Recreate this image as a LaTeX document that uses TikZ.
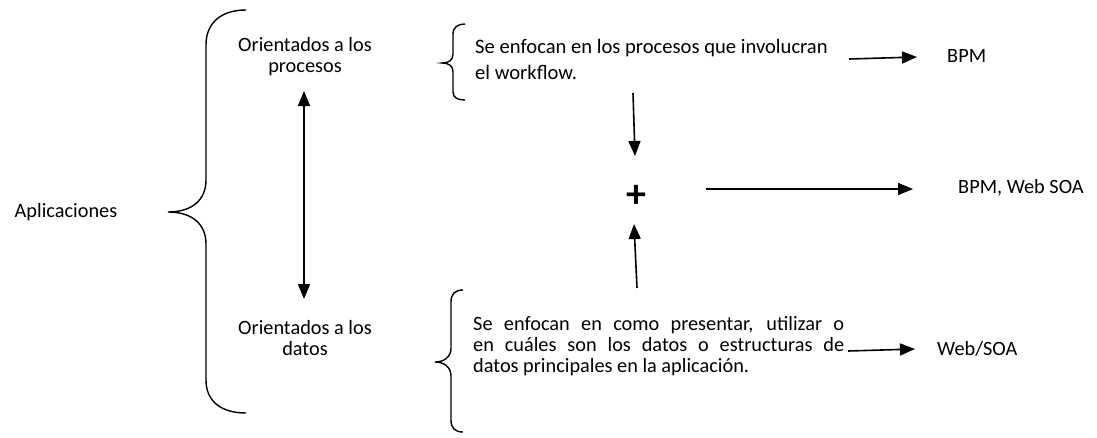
\documentclass[tikz,border=0pt]{standalone}
\usepackage{fontspec}
\setmainfont{Carlito}
\usetikzlibrary{arrows.meta}
\begin{document}
\begin{tikzpicture}[x=1pt,y=-1pt,
  txt/.style={inner sep=0pt,font=\fontsize{20.3}{21}\selectfont},
  arr/.style={line width=1.6pt,-{Triangle[length=15pt,width=12pt]}},
  darr/.style={line width=1.6pt,{Triangle[length=15pt,width=12pt]}-{Triangle[length=15pt,width=12pt]}},
  brace/.style={line width=1.4pt}]
\useasboundingbox (0,0) rectangle (1097,437);
% texts
\node[txt] (apl) at (66,212) {Aplicaciones};
\node[txt,align=center,font=\fontsize{20.3}{21}\selectfont] (proc) at (305,57) {Orientados a los\\procesos};
\node[txt,align=center,font=\fontsize{20.3}{21}\selectfont] (dat) at (305,338) {Orientados a los\\datos};
\node[txt,anchor=west,align=left,font=\fontsize{20.6}{26}\selectfont] (t1) at (475,59) {Se enfocan en los procesos que involucran\\el workflow.};
\node[txt,anchor=west,text width=371pt,align=justify,font=\fontsize{20.3}{21}\selectfont] (t2) at (473,346) {Se enfocan en como presentar, utilizar o\linebreak en cuáles son los datos o estructuras de\linebreak datos principales en la aplicación.};
\node[txt,anchor=west] (bpm) at (947,56) {BPM};
\node[txt,anchor=west] (bws) at (958,188) {BPM, Web SOA};
\node[txt,anchor=west] (wsoa) at (937,349) {Web/SOA};
\node[inner sep=0pt,font=\fontsize{40}{40}\bfseries] (plus) at (636.5,196) {+};
% big brace
\draw[brace] (246,10) .. controls (222,10) and (206,22) .. (206,45)
  -- (206,180) .. controls (206,200) and (192,212) .. (168,212)
  .. controls (192,212) and (206,224) .. (206,244)
  -- (206,380) .. controls (206,402) and (222,413) .. (246,413);
% small brace 1
\draw[brace] (465,24) .. controls (458,24) and (453,27) .. (453,34)
  -- (453,54) .. controls (453,60) and (449,63) .. (442,63)
  .. controls (449,63) and (453,66) .. (453,72)
  -- (453,92) .. controls (453,98) and (458,100) .. (465,100);
% small brace 2
\draw[brace] (463,290) .. controls (455,290) and (451,294) .. (451,302)
  -- (451,348) .. controls (451,357) and (444,362) .. (435,362)
  .. controls (444,362) and (451,367) .. (451,376)
  -- (451,420) .. controls (451,428) and (455,432) .. (463,432);
% arrows
\coordinate (a1s) at (849,59); \coordinate (a1e) at (917,57);
\coordinate (a2s) at (706,189); \coordinate (a2e) at (913,189);
\coordinate (a3s) at (848,351); \coordinate (a3e) at (915,349);
\coordinate (dns) at (633,93); \coordinate (dne) at (635,156);
\coordinate (ups) at (637,288); \coordinate (upe) at (634,224);
\coordinate (dbs) at (304,91); \coordinate (dbe) at (304,299);
\draw[arr] (a1s) -- (a1e);
\draw[arr] (a2s) -- (a2e);
\draw[arr] (a3s) -- (a3e);
\draw[arr] (dns) -- (dne);
\draw[arr] (ups) -- (upe);
\draw[darr] (dbs) -- (dbe);
\end{tikzpicture}
\end{document}
